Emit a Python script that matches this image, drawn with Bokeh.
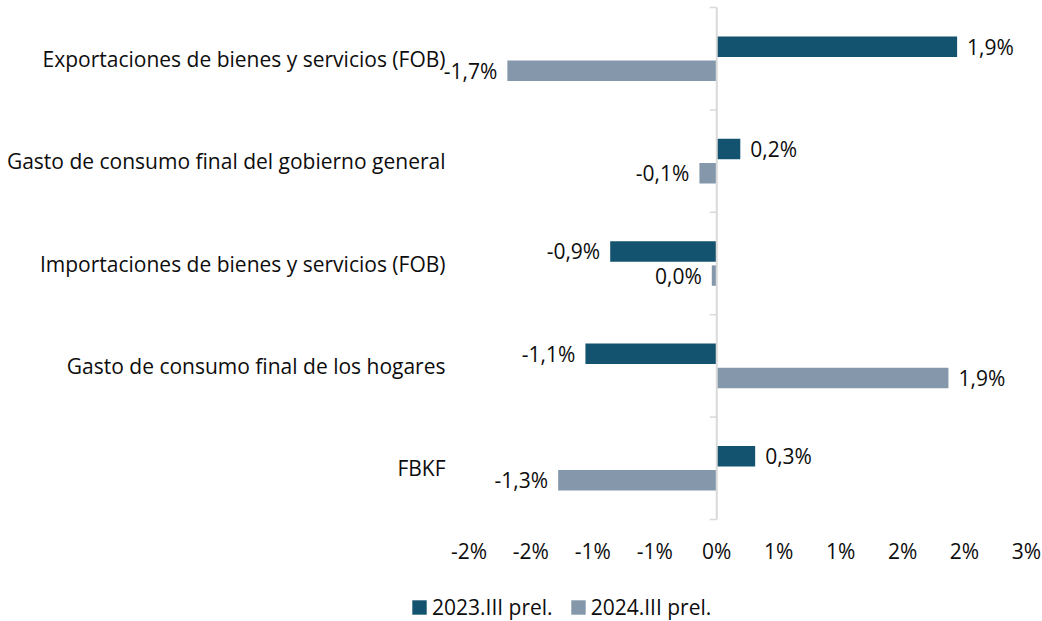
import math
from bokeh.plotting import figure
from bokeh.layouts import column
from bokeh.models import (ColumnDataSource, Range1d, FixedTicker, LinearAxis,
                          Legend, LegendItem)
from bokeh.core.properties import value
from bokeh.embed import file_html
from bokeh.resources import INLINE

# ---- data ----
categories = [
    "Exportaciones de bienes y servicios (FOB)",
    "Gasto de consumo final del gobierno general",
    "Importaciones de bienes y servicios (FOB)",
    "Gasto de consumo final de los hogares",
    "FBKF",
]
series_names = ["2023.III prel.", "2024.III prel."]
values_2023 = [1.94, 0.19, -0.86, -1.06, 0.31]
values_2024 = [-1.69, -0.14, -0.04, 1.87, -1.28]
xtick_values = [-2.0, -1.5, -1.0, -0.5, 0.0, 0.5, 1.0, 1.5, 2.0, 2.5]
xtick_labels = ["-2%", "-2%", "-1%", "-1%", "0%", "1%", "1%", "2%", "2%", "3%"]

FONT = "Open Sans"
FS = "21px"
TXT = "#0d0d0d"
C1 = "#14536f"
C2 = "#8598ab"
AXC = "#d9d9d9"

n = len(categories)
centers = [n - i - 0.5 for i in range(n)]
bar_h = 0.2
off = 0.118
pad = 0.03

def fmt(v):
    r = round(v, 1) + 0.0
    return f"{r:.1f}".replace(".", ",") + "%"

p = figure(width=1042, height=586, output_backend="svg", toolbar_location=None,
           x_range=Range1d(-2.262, 2.5), y_range=Range1d(-pad, n + pad),
           min_border_left=436, min_border_right=16, min_border_top=4,
           min_border_bottom=64, y_axis_type=None)
if "frame_align" in p.properties():
    p.frame_align = False
p.outline_line_color = None
p.xgrid.visible = False
p.ygrid.visible = False
p.background_fill_color = "white"
p.border_fill_color = "white"

y1 = [c + off for c in centers]
y2 = [c - off for c in centers]
r1 = p.hbar(y=y1, left=0, right=values_2023, height=bar_h,
            fill_color=C1, line_color=None)
r2 = p.hbar(y=y2, left=0, right=values_2024, height=bar_h,
            fill_color=C2, line_color=None)

# zero line with category boundary ticks
p.segment(x0=[0], y0=[0], x1=[0], y1=[n], line_color=AXC, line_width=2)
p.ray(x=[0] * (n + 1), y=list(range(n + 1)), length=7, length_units="screen",
      angle=math.pi, line_color=AXC, line_width=1.5)

# data labels
for vals, ys in ((values_2023, y1), (values_2024, y2)):
    pos = dict(x=[v for v in vals if v >= 0], y=[y for v, y in zip(vals, ys) if v >= 0],
               t=[fmt(v) for v in vals if v >= 0])
    neg = dict(x=[v for v in vals if v < 0], y=[y for v, y in zip(vals, ys) if v < 0],
               t=[fmt(v) for v in vals if v < 0])
    p.text(x="x", y="y", text="t", source=ColumnDataSource(pos), x_offset=10,
           text_align="left", text_baseline="middle", text_font=value(FONT),
           text_font_size=FS, text_color=TXT)
    p.text(x="x", y="y", text="t", source=ColumnDataSource(neg), x_offset=-10,
           text_align="right", text_baseline="middle", text_font=value(FONT),
           text_font_size=FS, text_color=TXT)

# x axis
xa = p.xaxis[0]
xa.ticker = FixedTicker(ticks=xtick_values)
xa.major_label_overrides = {t: l for t, l in zip(xtick_values, xtick_labels)}
xa.axis_line_color = None
xa.major_tick_line_color = None
xa.minor_tick_line_color = None
xa.major_tick_out = 0
xa.major_tick_in = 0
xa.major_label_standoff = 14
xa.major_label_text_font = FONT
xa.major_label_text_font_size = FS
xa.major_label_text_color = TXT

# category labels axis (left)
ya = LinearAxis(ticker=FixedTicker(ticks=centers),
                major_label_overrides={c: name for c, name in zip(centers, categories)})
ya.axis_line_color = None
ya.major_tick_line_color = None
ya.minor_tick_line_color = None
ya.major_tick_out = 0
ya.major_tick_in = 0
ya.major_label_standoff = -9
ya.major_label_text_font = FONT
ya.major_label_text_font_size = FS
ya.major_label_text_color = TXT
p.add_layout(ya, "left")

# legend strip (same series; its view ranges keep the bars out of sight)
pl = figure(width=1042, height=35, output_backend="svg", toolbar_location=None,
            x_range=Range1d(100, 101), y_range=Range1d(100, 101),
            x_axis_type=None, y_axis_type=None,
            min_border_left=0, min_border_right=0, min_border_top=0, min_border_bottom=0)
if "frame_align" in pl.properties():
    pl.frame_align = False
pl.outline_line_color = None
pl.xgrid.visible = False
pl.ygrid.visible = False
l1 = pl.hbar(y=y1, left=0, right=values_2023, height=bar_h, fill_color=C1, line_color=None)
l2 = pl.hbar(y=y2, left=0, right=values_2024, height=bar_h, fill_color=C2, line_color=None)
legend = Legend(items=[LegendItem(label=series_names[0], renderers=[l1], index=0),
                       LegendItem(label=series_names[1], renderers=[l2], index=0)],
                orientation="horizontal", location=(410, 0),
                glyph_width=18, glyph_height=18, label_standoff=4, spacing=16,
                padding=0, margin=0, border_line_color=None,
                background_fill_alpha=0,
                label_text_font=FONT, label_text_font_size=FS,
                label_text_color=TXT)
pl.add_layout(legend, "center")

layout = column(p, pl, spacing=0)
open("out.html", "w").write(file_html(layout, INLINE))
